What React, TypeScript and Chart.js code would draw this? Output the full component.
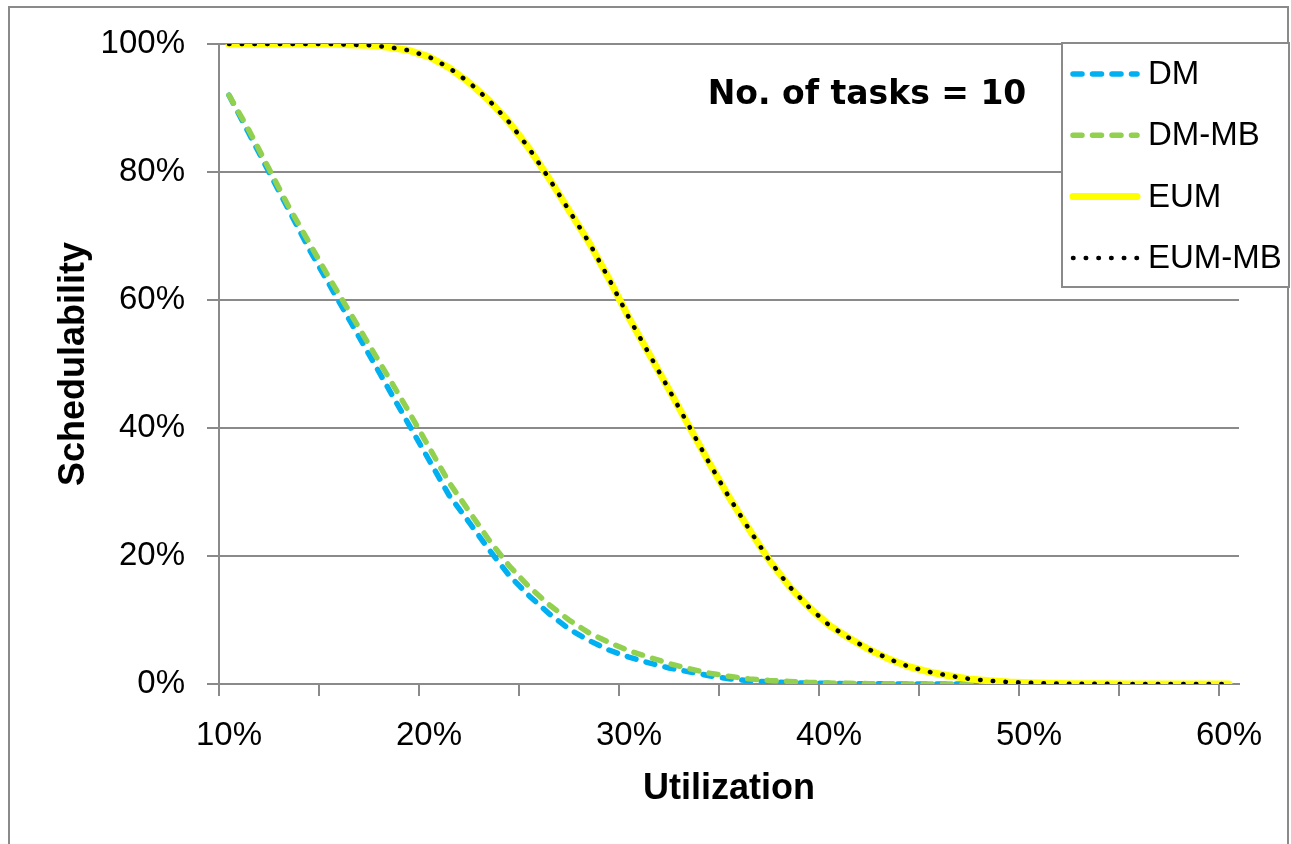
import React, { useEffect, useRef } from 'react';
import { Chart, registerables } from 'chart.js';

Chart.register(...registerables);

// ---- data ----
const utilization = [
  '10%', '11%', '12%', '13%', '14%', '15%', '16%', '17%', '18%', '19%',
  '20%', '21%', '22%', '23%', '24%', '25%', '26%', '27%', '28%', '29%',
  '30%', '31%', '32%', '33%', '34%', '35%', '36%', '37%', '38%', '39%',
  '40%', '41%', '42%', '43%', '44%', '45%', '46%', '47%', '48%', '49%',
  '50%', '51%', '52%', '53%', '54%', '55%', '56%', '57%', '58%', '59%',
  '60%',
];

const dm = [
  92, 86, 80, 74, 68, 62.5, 57, 51.5, 46, 40.5,
  35, 29.5, 25.3, 21, 17, 13.8, 11, 8.6, 6.8, 5.3,
  4.2, 3.3, 2.5, 1.9, 1.3, 0.8, 0.5, 0.35, 0.2, 0.15,
  0.1, 0.05, 0.03, 0.02, 0, 0, 0, 0, 0, 0,
  0, 0, 0, 0, 0, 0, 0, 0, 0, 0,
  0,
];

const dmMb = [
  92, 86.5, 80.5, 74.5, 69, 63.5, 58.3, 53, 47.8, 42.5,
  37, 31.5, 27, 22.5, 18.5, 15.2, 12.4, 10, 8, 6.5,
  5.2, 4.2, 3.2, 2.4, 1.7, 1.2, 0.8, 0.55, 0.4, 0.25,
  0.15, 0.1, 0.05, 0.03, 0, 0, 0, 0, 0, 0,
  0, 0, 0, 0, 0, 0, 0, 0, 0, 0,
  0,
];

const eum = [
  100, 100, 100, 100, 100, 100, 99.9, 99.8, 99.5, 99,
  98, 96.3, 94, 91.2, 87.8, 83.7, 79, 74, 69, 63.3,
  57.2, 51.6, 46, 40.3, 34.6, 29.2, 24.2, 19.4, 15.3, 12,
  9.2, 7.2, 5.4, 3.9, 2.7, 1.9, 1.3, 0.8, 0.5, 0.3,
  0.2, 0.1, 0.05, 0.03, 0.02, 0.01, 0, 0, 0, 0,
  0,
];

const eumMb = [
  100, 100, 100, 100, 100, 100, 99.9, 99.8, 99.5, 99,
  98, 96.3, 94, 91.2, 87.8, 83.7, 79, 74, 69, 63.3,
  57.2, 51.6, 46, 40.3, 34.6, 29.2, 24.2, 19.4, 15.3, 12,
  9.2, 7.2, 5.4, 3.9, 2.7, 1.9, 1.3, 0.8, 0.5, 0.3,
  0.2, 0.1, 0.05, 0.03, 0.02, 0.01, 0, 0, 0, 0,
  0,
];

const seriesNames = ['DM', 'DM-MB', 'EUM', 'EUM-MB'];
const chartTitle = 'No. of tasks = 10';
const xTitle = 'Utilization';
const yTitle = 'Schedulability';

// ---- style ----
const GRAY = '#8a8a8a';
const FONT = "'Liberation Sans', Arial, sans-serif";

const overlayPlugin = {
  id: 'overlay',
  beforeDraw(chart: any) {
    const { ctx, width, height } = chart;
    ctx.save();
    ctx.fillStyle = '#ffffff';
    ctx.fillRect(0, 0, width, height);
    ctx.restore();
  },
  afterDraw(chart: any) {
    const { ctx, chartArea, width, height } = chart;
    ctx.save();
    // outer frame
    ctx.strokeStyle = GRAY;
    ctx.lineWidth = 2;
    ctx.strokeRect(9, 7, width - 12, height + 20);

    // title inside the plot
    ctx.fillStyle = '#000';
    ctx.font = "bold 33px 'DejaVu Sans', sans-serif";
    ctx.textAlign = 'center';
    ctx.textBaseline = 'middle';
    ctx.fillText(chartTitle, chartArea.left + 648, chartArea.top + 51);

    // legend box
    const lx = chartArea.right - 177;
    const ly = chartArea.top - 1;
    const lw = 227;
    const lh = 244;
    ctx.fillStyle = '#fff';
    ctx.fillRect(lx, ly, lw, lh);
    ctx.strokeStyle = GRAY;
    ctx.lineWidth = 2;
    ctx.strokeRect(lx, ly, lw, lh);

    chart.data.datasets.forEach((ds: any, i: number) => {
      const y = ly + 31 + i * 61.3;
      ctx.beginPath();
      ctx.strokeStyle = ds.borderColor;
      ctx.lineWidth = ds.borderWidth;
      ctx.setLineDash(ds.borderDash || []);
      ctx.lineCap = ds.borderCapStyle || 'butt';
      ctx.moveTo(lx + 11, y);
      ctx.lineTo(lx + 75, y);
      ctx.stroke();
      ctx.setLineDash([]);
      ctx.fillStyle = '#000';
      ctx.font = `33px ${FONT}`;
      ctx.textAlign = 'left';
      ctx.textBaseline = 'middle';
      ctx.fillText(ds.label, lx + 86, y + 1);
    });
    ctx.restore();
  },
};

export default function App() {
  const canvasRef = useRef<HTMLCanvasElement | null>(null);

  useEffect(() => {
    const canvas = canvasRef.current;
    if (!canvas) return;
    const chart = new Chart(canvas, {
      type: 'line',
      data: {
        labels: utilization,
        datasets: [
          {
            label: seriesNames[0],
            data: dm,
            borderColor: '#00B0F0',
            borderWidth: 5.5,
            borderDash: [9, 10.5],
            borderCapStyle: 'round',
            pointRadius: 0,
            tension: 0,
            fill: false,
            order: 4,
          },
          {
            label: seriesNames[1],
            data: dmMb,
            borderColor: '#92D050',
            borderWidth: 5.5,
            borderDash: [9, 10.5],
            borderCapStyle: 'round',
            pointRadius: 0,
            tension: 0,
            fill: false,
            order: 3,
          },
          {
            label: seriesNames[2],
            data: eum,
            borderColor: '#FFFF00',
            borderWidth: 7,
            borderCapStyle: 'round',
            pointRadius: 0,
            tension: 0,
            fill: false,
            order: 2,
          },
          {
            label: seriesNames[3],
            data: eumMb,
            borderColor: '#000000',
            borderWidth: 4.5,
            borderDash: [0.5, 12.2],
            borderCapStyle: 'round',
            pointRadius: 0,
            tension: 0,
            fill: false,
            order: 1,
          },
        ],
      },
      options: {
        responsive: false,
        devicePixelRatio: 1,
        animation: false,
        layout: { padding: { top: 44, right: 52, bottom: 0, left: 0 } },
        plugins: {
          legend: { display: false },
          tooltip: { enabled: false },
          title: { display: false },
        },
        scales: {
          x: {
            type: 'category',
            offset: true,
            ticks: {
              autoSkip: false,
              maxRotation: 0,
              minRotation: 0,
              padding: 20,
              color: '#000',
              font: { family: FONT, size: 33 },
              callback: (_v: any, i: number) => (i % 10 === 0 ? utilization[i] : ''),
            },
            grid: {
              offset: true,
              drawOnChartArea: false,
              drawTicks: true,
              tickLength: 12,
              tickWidth: 2,
              lineWidth: 2,
              color: GRAY,
              tickColor: (c: any) => (typeof c.index === 'number' && c.index % 5 === 0 ? GRAY : 'rgba(0,0,0,0)'),
            },
            border: { display: true, color: GRAY, width: 2 },
            title: {
              display: true,
              text: xTitle,
              color: '#000',
              font: { family: FONT, size: 36, weight: 'bold' },
              padding: { top: 0, bottom: 33 },
            },
            afterFit: (s: any) => {
              s.height = 160;
            },
          },
          y: {
            min: 0,
            max: 100,
            ticks: {
              stepSize: 20,
              padding: 22,
              color: '#000',
              font: { family: FONT, size: 33 },
              callback: (v: any) => `${v}%`,
            },
            grid: {
              color: GRAY,
              lineWidth: 2,
              tickLength: 12,
              tickColor: GRAY,
            },
            border: { display: true, color: GRAY, width: 2 },
            title: {
              display: true,
              text: yTitle,
              color: '#000',
              font: { family: FONT, size: 36, weight: 'bold' },
              padding: { top: 52, bottom: 0 },
            },
            afterFit: (s: any) => {
              s.width = 219;
            },
          },
        },
      },
      plugins: [overlayPlugin],
    } as any);
    return () => chart.destroy();
  }, []);

  return (
    <div style={{ position: 'absolute', left: 0, top: 0, width: 1291, height: 844 }}>
      <canvas ref={canvasRef} width={1291} height={844} style={{ display: 'block' }} />
    </div>
  );
}
